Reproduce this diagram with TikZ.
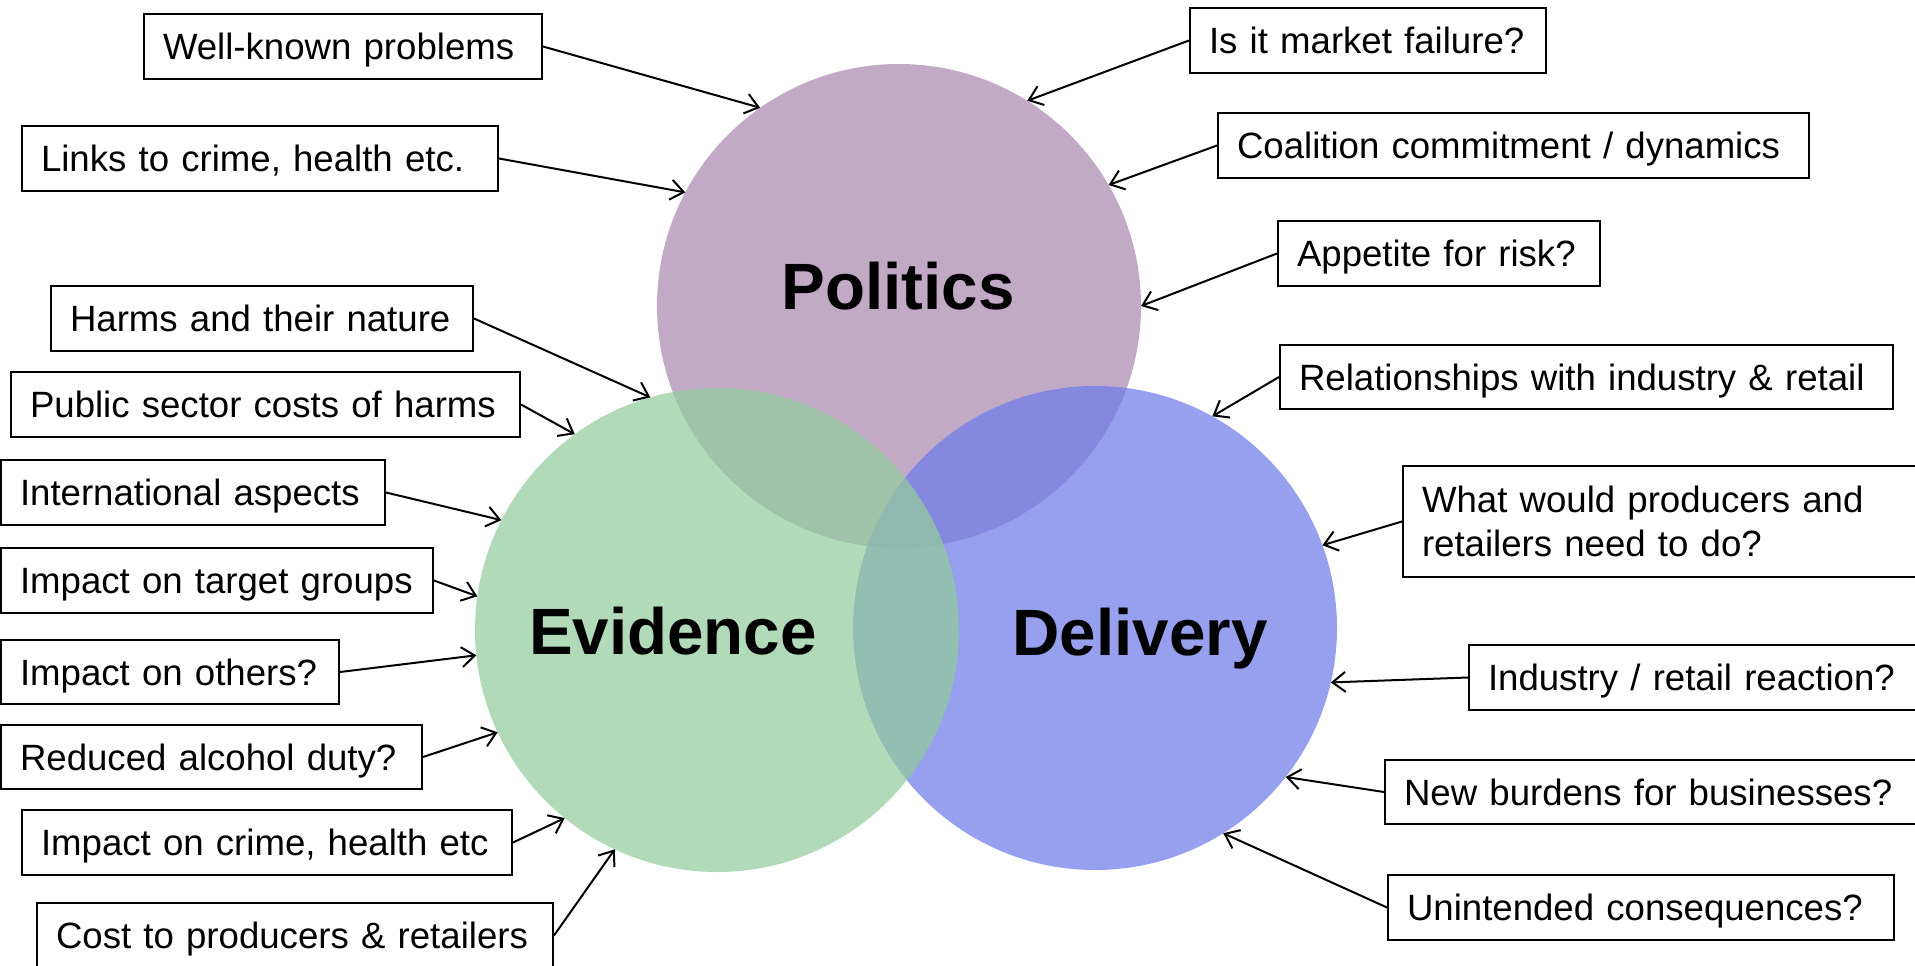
\documentclass[tikz,border=0pt]{standalone}
\usepackage{fontspec}
\setmainfont{Liberation Sans}
\usetikzlibrary{arrows.meta}

\definecolor{polfill}{RGB}{170,137,176}
\definecolor{delfill}{RGB}{109,123,231}
\definecolor{evifill}{RGB}{147,204,158}

\begin{document}
\begin{tikzpicture}[x=1pt,y=-1pt,
  setcircle/.style={circle, inner sep=0pt, outer sep=0pt, minimum size=484pt, fill opacity=0.72},
  title/.style={font=\fontsize{65.5}{70}\selectfont\bfseries, inner sep=0pt, anchor=base},
  notebase/.style={draw=black, line width=2pt, fill=white, inner xsep=19pt, inner ysep=0pt,
    font=\fontsize{36.6}{44}\selectfont},
  note/.style={notebase, text height=26.2pt, text depth=0pt},
  link/.style={line width=2pt, -{Straight Barb[length=13pt,width=20pt]}}]

\useasboundingbox (0,0) rectangle (1915,966);
\clip (0,0) rectangle (1915,966);

% the three overlapping sets
\node[setcircle, fill=polfill] (pol) at (899,306) {};
\node[setcircle, fill=delfill] (del) at (1095,628) {};
\node[setcircle, fill=evifill] (evi) at (717,630) {};

\node[title] (poltitle) at (898,309) {Politics};
\node[title] (evititle) at (673,654) {Evidence};
\node[title] (deltitle) at (1140,655) {Delivery};

% questions on the left
\node[note, minimum width=398pt, minimum height=65pt, text width=360pt] (wk) at (343,46.5) {\mbox{Well-known problems}};
\node[note, minimum width=476pt, minimum height=65pt, text width=438pt] (links) at (260,158.5) {\mbox{Links to crime, health etc.}};
\node[note, minimum width=422pt, minimum height=65pt, text width=384pt] (harms) at (262,318.5) {\mbox{Harms and their nature}};
\node[note, minimum width=509pt, minimum height=65pt, text width=471pt] (costs) at (265.5,404.5) {\mbox{Public sector costs of harms}};
\node[note, minimum width=384pt, minimum height=65pt, text width=346pt] (intl) at (193,492.5) {\mbox{International aspects}};
\node[note, minimum width=432pt, minimum height=65pt, text width=394pt] (target) at (217,580.5) {\mbox{Impact on target groups}};
\node[note, minimum width=338pt, minimum height=64pt, text width=300pt] (others) at (170,672) {\mbox{Impact on others?}};
\node[note, minimum width=421pt, minimum height=64pt, text width=383pt] (duty) at (211.5,757) {\mbox{Reduced alcohol duty?}};
\node[note, minimum width=490pt, minimum height=65pt, text width=452pt] (crime) at (267,842.5) {\mbox{Impact on crime, health etc}};
\node[note, minimum width=516pt, minimum height=65pt, text width=478pt] (producers) at (295,935.5) {\mbox{Cost to producers \& retailers}};

% questions on the right
\node[note, minimum width=356pt, minimum height=65pt, text width=318pt] (market) at (1368,40.5) {\mbox{Is it market failure?}};
\node[note, minimum width=591pt, minimum height=65pt, text width=553pt] (coalition) at (1513.5,145.5) {\mbox{Coalition commitment / dynamics}};
\node[note, minimum width=322pt, minimum height=65pt, text width=284pt] (appetite) at (1439,253.5) {\mbox{Appetite for risk?}};
\node[note, minimum width=613pt, minimum height=64pt, text width=575pt] (relations) at (1586.5,377) {\mbox{Relationships with industry \& retail}};
\node[notebase, minimum width=522pt, minimum height=111pt, text width=484pt] (todo) at (1664,521.5) {What would producers and\\retailers need to do?};
\node[note, minimum width=456pt, minimum height=65pt, text width=418pt] (reaction) at (1697,677.5) {\mbox{Industry / retail reaction?}};
\node[note, minimum width=540pt, minimum height=64pt, text width=502pt] (burdens) at (1655,792) {\mbox{New burdens for businesses?}};
\node[note, minimum width=506pt, minimum height=65pt, text width=468pt] (unintended) at (1641,907.5) {\mbox{Unintended consequences?}};

% connectors
\draw[link] (wk.east) -- (pol.125);
\draw[link] (links.east) -- (pol.152);
\draw[link] (harms.east) -- (evi.106);
\draw[link] (costs.east) -- (evi.126);
\draw[link] (intl.east) -- (evi.153);
\draw[link] (target.east) -- (evi.172);
\draw[link] (others.east) -- (evi.186);
\draw[link] (duty.east) -- (evi.205);
\draw[link] (crime.east) -- (evi.231);
\draw[link] (producers.east) -- (evi.245);

\draw[link] (market.west) -- (pol.58);
\draw[link] (coalition.west) -- (pol.30);
\draw[link] (appetite.west) -- (pol.0);
\draw[link] (relations.west) -- (del.61);
\draw[link] (todo.west) -- (del.20);
\draw[link] (reaction.west) -- (del.-13);
\draw[link] (burdens.west) -- (del.-38);
\draw[link] (unintended.west) -- (del.-58);
\end{tikzpicture}
\end{document}
